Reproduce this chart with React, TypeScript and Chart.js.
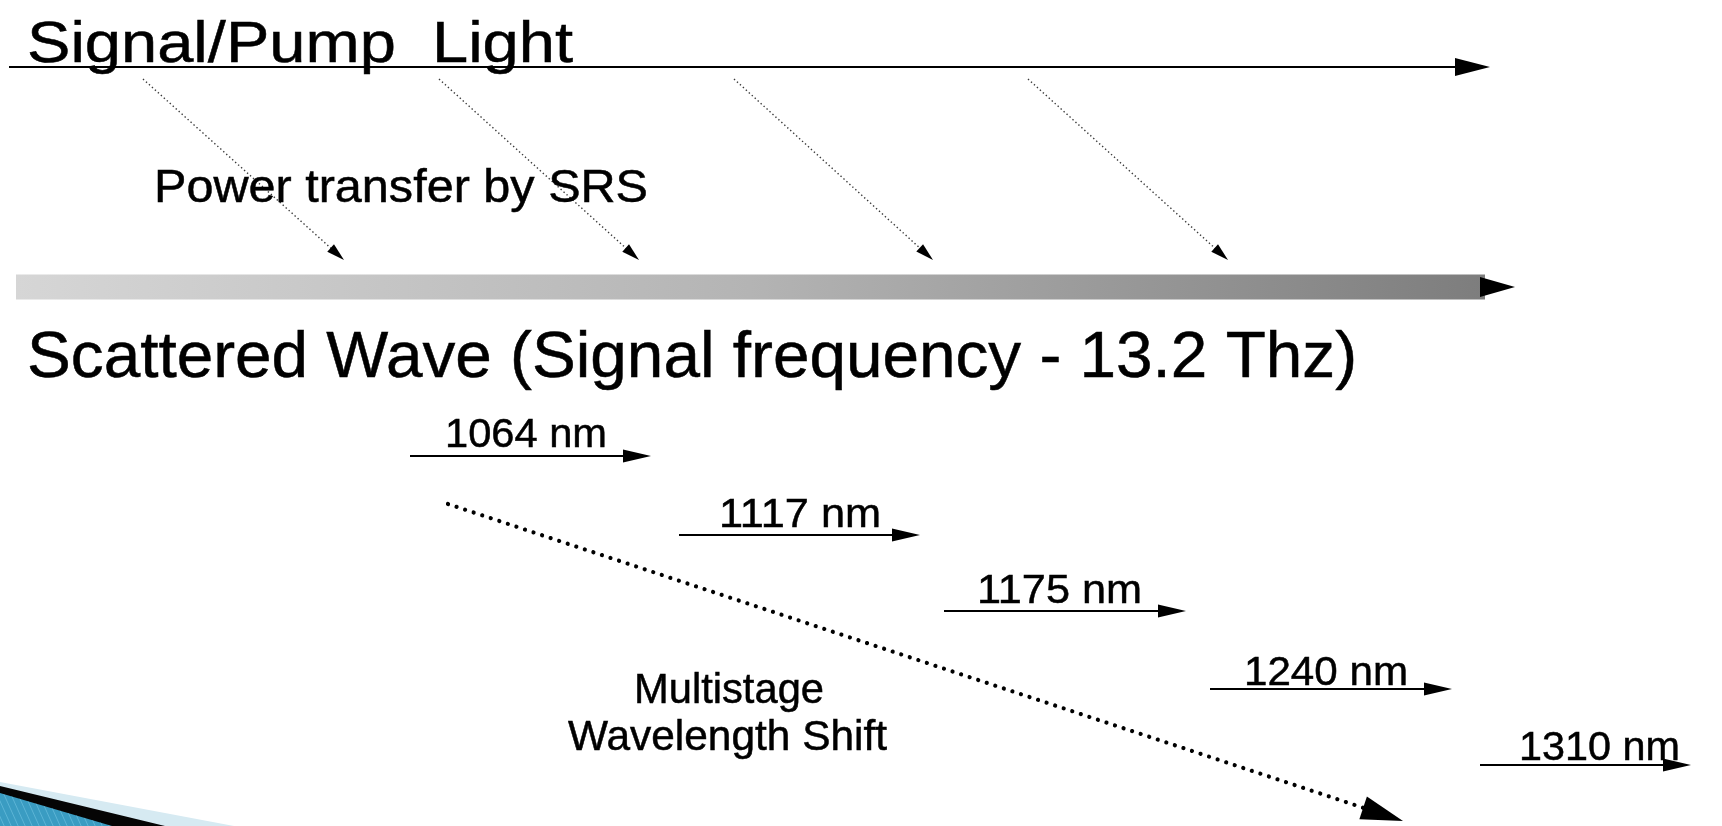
import React, { useEffect, useRef } from 'react';
import { Chart, registerables } from 'chart.js';
Chart.register(...registerables);

const W = 1722;
const H = 826;

// Signal / pump light arrow
const pumpX = [9, 1490];
const pumpY = [67, 67];
// Scattered wave bar
const barX = [16, 1485];
const barY = [287, 287];
const barArrowX = [1448, 1515];
// Power transfer (SRS) arrows
const srsStartX = [143, 439, 734, 1028];
const srsEndX = [344, 639, 933, 1228];
const srsStartY = [79, 79, 79, 79];
const srsEndY = [260, 260, 260, 260];
// Cascaded Raman stages
const stageLabels = ['1064 nm', '1117 nm', '1175 nm', '1240 nm', '1310 nm'];
const stageStartX = [410, 679, 944, 1210, 1480];
const stageEndX = [651, 920, 1186, 1452, 1691];
const stageY = [456, 535, 611, 689, 765];
const stageLabelX = [445, 719, 977, 1244, 1519];
const stageLabelY = [447, 527, 603, 685, 760];
const stageLabelW = [162, 162, 165, 164, 161];
// Multistage wavelength shift arrow
const shiftX = [448, 1403];
const shiftY = [504, 821];
// Captions
const captionTexts = [
  'Signal/Pump  Light',
  'Power transfer by SRS',
  'Scattered Wave (Signal frequency - 13.2 Thz)',
  'Multistage',
  'Wavelength Shift',
];
const captionX = [27, 154, 27, 634, 568];
const captionY = [62, 202, 377, 703, 750];
const captionW = [546, 494, 1330, 190, 319];
const captionSize = [58, 46, 64, 42, 42];

const FONT = '"Liberation Sans", Arial, Helvetica, sans-serif';
const INK = '#000000';

type Head = { x0: number; y0: number; x1: number; y1: number; len: number; half: number; color: string };

function shortened(x0: number, y0: number, x1: number, y1: number, cut: number) {
  const dx = x1 - x0, dy = y1 - y0;
  const d = Math.hypot(dx, dy);
  return [{ x: x0, y: y0 }, { x: x1 - (dx / d) * cut, y: y1 - (dy / d) * cut }];
}

export default function App() {
  const ref = useRef<HTMLCanvasElement>(null);

  useEffect(() => {
    if (!ref.current) return;

    const heads: Head[] = [];
    heads.push({ x0: pumpX[0], y0: pumpY[0], x1: pumpX[1], y1: pumpY[1], len: 35, half: 9, color: INK });
    heads.push({ x0: barArrowX[0], y0: barY[0], x1: barArrowX[1], y1: barY[1], len: 35, half: 10, color: INK });
    srsStartX.forEach((_, i) =>
      heads.push({ x0: srsStartX[i], y0: srsStartY[i], x1: srsEndX[i], y1: srsEndY[i], len: 18, half: 5, color: INK })
    );
    stageStartX.forEach((_, i) =>
      heads.push({ x0: stageStartX[i], y0: stageY[i], x1: stageEndX[i], y1: stageY[i], len: 28, half: 6.5, color: INK })
    );
    heads.push({ x0: shiftX[0], y0: shiftY[0], x1: shiftX[1], y1: shiftY[1], len: 42, half: 12, color: INK });

    const datasets: any[] = [];
    datasets.push({
      label: 'bar',
      data: [{ x: barX[0], y: barY[0] }, { x: barX[1], y: barY[1] }],
      showLine: true,
      borderWidth: 25,
      borderCapStyle: 'butt',
      pointRadius: 0,
      borderColor: (c: any) => {
        const ch = c.chart;
        const xs = ch.scales && ch.scales.x;
        if (!xs) return '#aaaaaa';
        const a = xs.getPixelForValue(barX[0]);
        const b = xs.getPixelForValue(barX[1]);
        if (!isFinite(a) || !isFinite(b) || a === b) return '#aaaaaa';
        const g = ch.ctx.createLinearGradient(a, 0, b, 0);
        g.addColorStop(0, '#d6d6d6');
        g.addColorStop(0.5, '#b4b4b4');
        g.addColorStop(1, '#7d7d7d');
        return g;
      },
    });
    datasets.push({
      label: 'pump',
      data: shortened(pumpX[0], pumpY[0], pumpX[1], pumpY[1], 34),
      showLine: true, borderWidth: 2, borderColor: INK, pointRadius: 0,
    });
    datasets.push({
      label: 'barArrow',
      data: shortened(barArrowX[0], barY[0], barArrowX[1], barY[1], 34),
      showLine: true, borderWidth: 2, borderColor: INK, pointRadius: 0,
    });
    srsStartX.forEach((_, i) => {
      datasets.push({
        label: 'srs' + i,
        data: shortened(srsStartX[i], srsStartY[i], srsEndX[i], srsEndY[i], 16),
        showLine: true, borderWidth: 1.4, borderColor: '#3a3a3a', borderDash: [1.4, 2.6], pointRadius: 0,
      });
    });
    stageStartX.forEach((_, i) => {
      datasets.push({
        label: stageLabels[i],
        data: shortened(stageStartX[i], stageY[i], stageEndX[i], stageY[i], 26),
        showLine: true, borderWidth: 1.8, borderColor: INK, pointRadius: 0,
      });
    });
    datasets.push({
      label: 'shift',
      data: shortened(shiftX[0], shiftY[0], shiftX[1], shiftY[1], 40),
      showLine: true, borderWidth: 4.2, borderColor: INK, borderDash: [0.01, 9],
      borderCapStyle: 'round', pointRadius: 0,
    });

    const decoPlugin = {
      id: 'deco',
      beforeDraw(chart: any) {
        const c = chart.ctx;
        c.save();
        c.fillStyle = '#ffffff';
        c.fillRect(0, 0, chart.width, chart.height);
        c.restore();
      },
      beforeDatasetsDraw(chart: any) {
        const c = chart.ctx;
        const xs = chart.scales.x, ys = chart.scales.y;
        const P = (x: number, y: number) => [xs.getPixelForValue(x), ys.getPixelForValue(y)];
        const poly = (pts: number[][], fill: string) => {
          c.beginPath();
          pts.forEach((p, i) => {
            const [px, py] = P(p[0], p[1]);
            if (i === 0) c.moveTo(px, py); else c.lineTo(px, py);
          });
          c.closePath();
          c.fillStyle = fill;
          c.fill();
        };
        c.save();
        poly([[0, 782], [234, 826], [0, 826]], '#d6eaf2');
        poly([[0, 786], [165, 826], [0, 826]], '#050505');
        poly([[0, 793], [112, 826], [0, 826]], '#3a9cc2');
        c.beginPath();
        const [ax, ay] = P(0, 793);
        const [bx, by] = P(112, 826);
        const [cx0, cy0] = P(0, 826);
        c.moveTo(ax, ay); c.lineTo(bx, by); c.lineTo(cx0, cy0); c.closePath();
        c.clip();
        c.strokeStyle = 'rgba(120,200,230,0.55)';
        c.lineWidth = 1;
        for (let s = -40; s < 140; s += 7) {
          c.beginPath();
          c.moveTo(s, 790);
          c.lineTo(s + 18, 830);
          c.stroke();
        }
        c.restore();
      },
      afterDatasetsDraw(chart: any) {
        const c = chart.ctx;
        const xs = chart.scales.x, ys = chart.scales.y;
        heads.forEach((h) => {
          const x0 = xs.getPixelForValue(h.x0), y0 = ys.getPixelForValue(h.y0);
          const x1 = xs.getPixelForValue(h.x1), y1 = ys.getPixelForValue(h.y1);
          const a = Math.atan2(y1 - y0, x1 - x0);
          c.save();
          c.translate(x1, y1);
          c.rotate(a);
          c.beginPath();
          c.moveTo(0, 0);
          c.lineTo(-h.len, -h.half);
          c.lineTo(-h.len, h.half);
          c.closePath();
          c.fillStyle = h.color;
          c.fill();
          c.restore();
        });
        const drawText = (t: string, x: number, y: number, w: number, size: number) => {
          c.save();
          c.font = `${size}px ${FONT}`;
          c.fillStyle = INK;
          c.strokeStyle = INK;
          c.lineWidth = 0.5;
          c.textBaseline = 'alphabetic';
          c.textAlign = 'left';
          const m = c.measureText(t).width;
          const px = xs.getPixelForValue(x), py = ys.getPixelForValue(y);
          c.translate(px, py);
          if (m > 0) c.scale(w / m, 1);
          c.fillText(t, 0, 0);
          c.strokeText(t, 0, 0);
          c.restore();
        };
        captionTexts.forEach((t, i) => drawText(t, captionX[i], captionY[i], captionW[i], captionSize[i]));
        stageLabels.forEach((t, i) => drawText(t, stageLabelX[i], stageLabelY[i], stageLabelW[i], 41));
      },
    };

    const chart = new Chart(ref.current, {
      type: 'scatter',
      data: { datasets },
      options: {
        responsive: false,
        animation: false,
        events: [],
        layout: { padding: 0 },
        plugins: { legend: { display: false }, tooltip: { enabled: false } },
        scales: {
          x: { type: 'linear', min: 0, max: W, display: false },
          y: { type: 'linear', min: 0, max: H, reverse: true, display: false },
        },
      },
      plugins: [decoPlugin],
    } as any);

    return () => chart.destroy();
  }, []);

  return (
    <div style={{ position: 'fixed', left: 0, top: 0, width: W, height: H, background: '#fff' }}>
      <canvas ref={ref} width={W} height={H} style={{ display: 'block', width: W, height: H }} />
    </div>
  );
}
